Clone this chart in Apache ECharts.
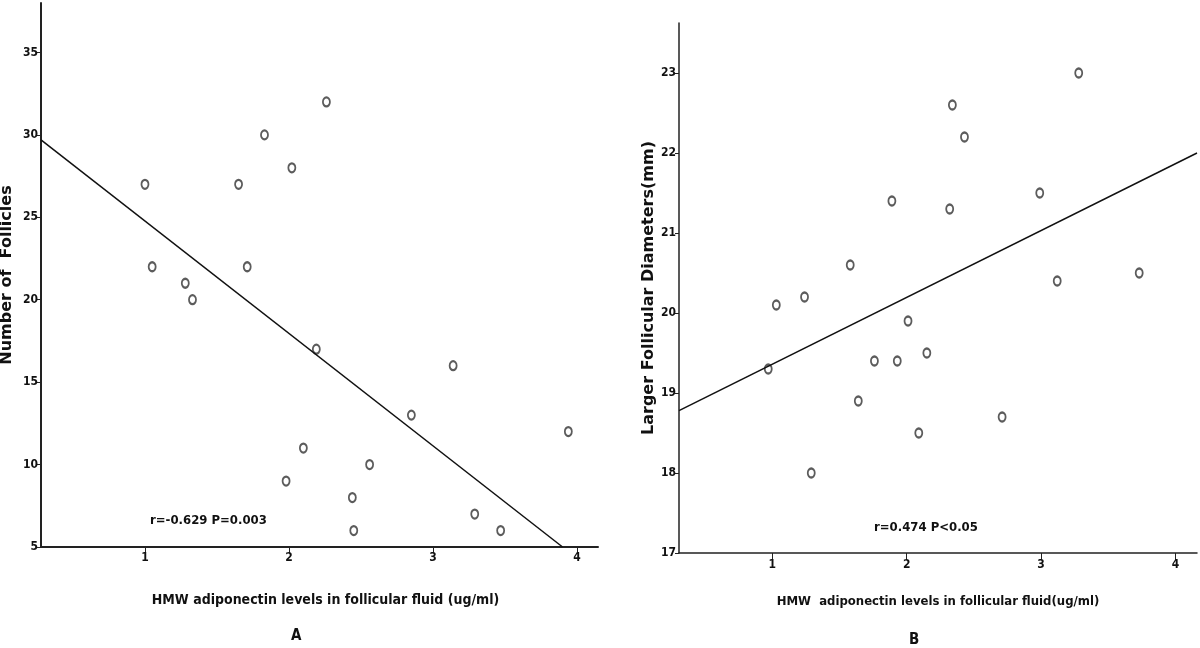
<!DOCTYPE html>
<html lang="en">
<head>
    <meta charset="UTF-8">
    <title>HMW adiponectin</title>
    <script src="https://cdn.jsdelivr.net/npm/echarts@6/dist/echarts.min.js"></script>
</head>
<body style="margin:0;background:#fff">
<div id="main" style="width:1200px;height:648px"></div>
<script>
    // panel A : number of follicles
    var xA = [1.00, 1.05, 1.28, 1.33, 1.65, 1.71, 1.83, 1.98, 2.02, 2.10, 2.19, 2.26, 2.44, 2.45, 2.56, 2.85, 3.14, 3.29, 3.47, 3.94];
    var yA = [27, 22, 21, 20, 27, 22, 30, 9, 28, 11, 17, 32, 8, 6, 10, 13, 16, 7, 6, 12];
    var fitA = [[0.278, 29.7], [3.90, 5]];

    // panel B : larger follicular diameter
    var xB = [0.97, 1.03, 1.24, 1.29, 1.58, 1.64, 1.76, 1.89, 1.93, 2.01, 2.09, 2.15, 2.32, 2.34, 2.43, 2.71, 2.99, 3.12, 3.28, 3.73];
    var yB = [19.3, 20.1, 20.2, 18.0, 20.6, 18.9, 19.4, 21.4, 19.4, 19.9, 18.5, 19.5, 21.3, 22.6, 22.2, 18.7, 21.5, 20.4, 23.0, 20.5];
    var fitB = [[0.306, 18.78], [4.16, 22.0]];

    var xTicks = [1, 2, 3, 4];
    var yTicksA = [5, 10, 15, 20, 25, 30, 35];
    var yTicksB = [17, 18, 19, 20, 21, 22, 23];

    function pairs(xs, ys) {
        var out = [];
        for (var i = 0; i < xs.length; i++) {
            out.push([xs[i], ys[i]]);
        }
        return out;
    }

    var narrow = "'Liberation Sans Narrow', 'DejaVu Sans Condensed', sans-serif";
    var labelStyle = {color: '#111', fontSize: 12, fontWeight: 'bold', fontFamily: narrow};
    var nameStyle = {color: '#111', fontSize: 16, fontWeight: 'bold', fontFamily: "'DejaVu Sans', sans-serif"};

    var myChart = echarts.init(document.getElementById('main'));

    var option = {
        backgroundColor: '#fff',
        animation: false,
        grid: [
            {left: 41, top: 3, width: 557, height: 544, outerBoundsMode: 'none', containLabel: false},
            {left: 679, top: 23, width: 518, height: 530, outerBoundsMode: 'none', containLabel: false}
        ],
        xAxis: [
            {
                gridIndex: 0, type: 'value', min: 0.278, max: 4.146,
                name: 'HMW adiponectin levels in follicular fluid (ug/ml)',
                nameLocation: 'middle', nameGap: 46,
                nameTextStyle: {color: '#111', fontSize: 14, fontWeight: 'bold', fontFamily: narrow, padding: [0, 0, 0, 12]},
                axisLine: {lineStyle: {color: '#222', width: 2}},
                axisTick: {length: 6, customValues: xTicks, lineStyle: {color: '#222'}},
                axisLabel: Object.assign({margin: 5, customValues: xTicks}, labelStyle),
                splitLine: {show: false}
            },
            {
                gridIndex: 1, type: 'value', min: 0.306, max: 4.16,
                name: 'HMW  adiponectin levels in follicular fluid(ug/ml)',
                nameLocation: 'middle', nameGap: 42,
                nameTextStyle: {color: '#111', fontSize: 13, fontWeight: 'bold', fontFamily: narrow},
                axisLine: {lineStyle: {color: '#222', width: 1.5}},
                axisTick: {length: 7, customValues: xTicks, lineStyle: {color: '#222'}},
                axisLabel: Object.assign({margin: 6, customValues: xTicks}, labelStyle),
                splitLine: {show: false}
            }
        ],
        yAxis: [
            {
                gridIndex: 0, type: 'value', min: 5, max: 38,
                name: 'Number of  Follicles',
                nameLocation: 'middle', nameGap: 26, nameRotate: 90,
                nameTextStyle: nameStyle,
                axisLine: {lineStyle: {color: '#222', width: 2}},
                axisTick: {length: 5, customValues: yTicksA, lineStyle: {color: '#222'}},
                axisLabel: Object.assign({margin: 3, customValues: yTicksA}, labelStyle),
                splitLine: {show: false}
            },
            {
                gridIndex: 1, type: 'value', min: 17, max: 23.625,
                name: 'Larger Follicular Diameters(mm)',
                nameLocation: 'middle', nameGap: 22, nameRotate: 90,
                nameTextStyle: nameStyle,
                axisLine: {lineStyle: {color: '#222', width: 1.5}},
                axisTick: {length: 4, customValues: yTicksB, lineStyle: {color: '#222'}},
                axisLabel: Object.assign({margin: 3, customValues: yTicksB}, labelStyle),
                splitLine: {show: false}
            }
        ],
        series: [
            {
                name: 'A', type: 'scatter', xAxisIndex: 0, yAxisIndex: 0,
                symbol: 'emptyCircle', symbolSize: [7, 9],
                itemStyle: {color: '#333', borderColor: '#333', borderWidth: 1.2},
                data: pairs(xA, yA)
            },
            {
                name: 'fitA', type: 'line', xAxisIndex: 0, yAxisIndex: 0,
                symbol: 'none', lineStyle: {color: '#111', width: 1.5},
                data: fitA
            },
            {
                name: 'B', type: 'scatter', xAxisIndex: 1, yAxisIndex: 1,
                symbol: 'emptyCircle', symbolSize: [7, 9],
                itemStyle: {color: '#333', borderColor: '#333', borderWidth: 1.2},
                data: pairs(xB, yB)
            },
            {
                name: 'fitB', type: 'line', xAxisIndex: 1, yAxisIndex: 1,
                symbol: 'none', lineStyle: {color: '#111', width: 1.5},
                data: fitB
            }
        ],
        graphic: [
            {type: 'text', left: 150, top: 514, style: {text: 'r=-0.629 P=0.003', fill: '#111', font: 'bold 13px ' + narrow}},
            {type: 'text', left: 874, top: 521, style: {text: 'r=0.474 P<0.05', fill: '#111', font: 'bold 13px ' + narrow}},
            {type: 'text', left: 291, top: 629, style: {text: 'A', fill: '#111', font: 'bold 15px ' + narrow}},
            {type: 'text', left: 909, top: 633, style: {text: 'B', fill: '#111', font: 'bold 15px ' + narrow}}
        ]
    };

    myChart.setOption(option);
</script>
</body>
</html>
